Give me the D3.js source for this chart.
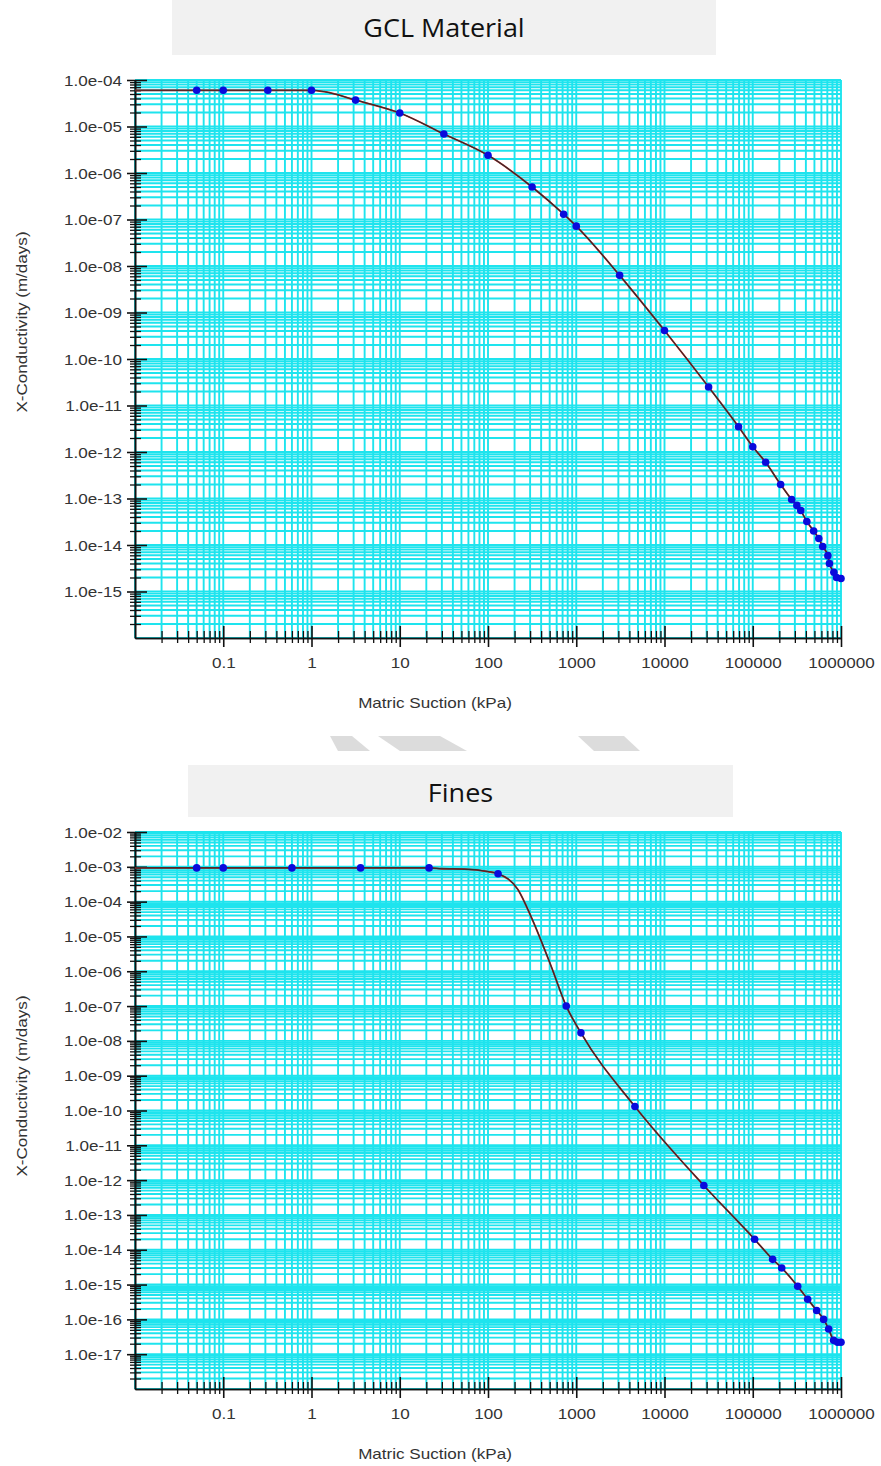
<!DOCTYPE html>
<html><head><meta charset="utf-8">
<script src="https://cdn.jsdelivr.net/npm/d3@7"></script>
<style>
html,body{margin:0;padding:0;background:#fff;}
svg{display:block;}
</style>
</head><body>
<script>
// ---------- data ----------
const xTickValues = [0.1, 1, 10, 100, 1000, 10000, 100000, 1000000];
const xTickLabels = ["0.1", "1", "10", "100", "1000", "10000", "100000", "1000000"];

const gclTitle = "GCL Material";
const gclYTickValues = [1e-4,1e-5,1e-6,1e-7,1e-8,1e-9,1e-10,1e-11,1e-12,1e-13,1e-14,1e-15];
const gclYTickLabels = ["1.0e-04","1.0e-05","1.0e-06","1.0e-07","1.0e-08","1.0e-09","1.0e-10","1.0e-11","1.0e-12","1.0e-13","1.0e-14","1.0e-15"];
const gclPointSuction = [0.05,0.1,0.32,1,3.16,10,31.6,100,316,720,1000,3100,10000,31600,69000,100000,140000,207000,276000,316000,350000,410000,490000,560000,620000,710000,740000,830000,890000,1000000];
const gclPointK = [6.0e-5,6.0e-5,6.0e-5,6.0e-5,3.7e-5,1.95e-5,6.9e-6,2.4e-6,5.0e-7,1.3e-7,7.2e-8,6.3e-9,4.1e-10,2.5e-11,3.5e-12,1.3e-12,6.0e-13,2.0e-13,9.5e-14,7.1e-14,5.5e-14,3.2e-14,2.0e-14,1.38e-14,9.3e-15,5.9e-15,4.0e-15,2.6e-15,2.0e-15,1.9e-15];
const gclCurveSuction = [0.01,0.05,0.1,0.32,1,1.4,3.16,10,31.6,100,316,720,1000,3100,10000,31600,69000,100000,140000,207000,276000,316000,350000,410000,490000,560000,620000,710000,740000,830000,890000,1000000];
const gclCurveK = [6.0e-5,6.0e-5,6.0e-5,6.0e-5,6.0e-5,5.6e-5,3.7e-5,1.95e-5,6.9e-6,2.4e-6,5.0e-7,1.3e-7,7.2e-8,6.3e-9,4.1e-10,2.5e-11,3.5e-12,1.3e-12,6.0e-13,2.0e-13,9.5e-14,7.1e-14,5.5e-14,3.2e-14,2.0e-14,1.38e-14,9.3e-15,5.9e-15,4.0e-15,2.6e-15,2.0e-15,1.9e-15];

const finesTitle = "Fines";
const finesYTickValues = [1e-2,1e-3,1e-4,1e-5,1e-6,1e-7,1e-8,1e-9,1e-10,1e-11,1e-12,1e-13,1e-14,1e-15,1e-16,1e-17];
const finesYTickLabels = ["1.0e-02","1.0e-03","1.0e-04","1.0e-05","1.0e-06","1.0e-07","1.0e-08","1.0e-09","1.0e-10","1.0e-11","1.0e-12","1.0e-13","1.0e-14","1.0e-15","1.0e-16","1.0e-17"];
const finesPointSuction = [0.05,0.1,0.6,3.6,21.5,130,770,1130,4620,27900,105000,168000,213000,323000,419000,530000,636000,724000,825000,915000,1000000];
const finesPointK = [9.3e-4,9.3e-4,9.3e-4,9.3e-4,9.3e-4,6.3e-4,1.0e-7,1.7e-8,1.3e-10,7.0e-13,2.0e-14,5.3e-15,3.0e-15,8.9e-16,3.8e-16,1.8e-16,1.0e-16,5.3e-17,2.5e-17,2.2e-17,2.2e-17];
const finesCurveSuction = [0.01,0.05,0.1,0.6,3.6,21.5,30,54,100,130,219,309,522,770,1130,4620,27900,105000,168000,213000,323000,419000,530000,636000,724000,825000,915000,1000000];
const finesCurveK = [9.3e-4,9.3e-4,9.3e-4,9.3e-4,9.3e-4,9.3e-4,8.8e-4,8.6e-4,7.3e-4,6.3e-4,2.2e-4,3.6e-5,1.35e-6,1.0e-7,1.7e-8,1.3e-10,7.0e-13,2.0e-14,5.3e-15,3.0e-15,8.9e-16,3.8e-16,1.8e-16,1.0e-16,5.3e-17,2.5e-17,2.2e-17,2.2e-17];

const xAxisTitle = "Matric Suction (kPa)";
const yAxisTitle = "X-Conductivity (m/days)";

// ---------- drawing ----------
const W = 881, H = 1466;
const SX = 1.22; // horizontal stretch of chart fonts
const GRID = "#1ee4ee";
const FONT = "'Liberation Sans', Arial, sans-serif";

const svg = d3.select("body").append("svg").attr("width", W).attr("height", H);
svg.append("rect").attr("width", W).attr("height", H).attr("fill", "#fff");

// decorative watermark between panels
const wm = [
  [[330,736],[352,736],[370,751],[338,751]],
  [[378,736],[440,736],[467,751],[400,751]],
  [[578,736],[624,736],[640,751],[594,751]]
];
svg.append("g").selectAll("polygon").data(wm).join("polygon")
  .attr("points", d => d.map(p => p.join(",")).join(" "))
  .attr("fill", "#dcdcdc");

function minorValues(lo, hi) {
  const out = [];
  for (let e = Math.round(Math.log10(lo)); e < Math.round(Math.log10(hi)); e++) {
    for (let k = 1; k <= 9; k++) out.push(k * Math.pow(10, e));
  }
  out.push(hi);
  return out;
}

function drawPanel(cfg) {
  const x = d3.scaleLog().domain([0.01, 1e6]).range([135, 841]);
  const y = d3.scaleLog().domain(cfg.yDomain).range([cfg.bottom, cfg.top]);
  const g = svg.append("g");

  // title box
  g.append("rect").attr("x", cfg.box[0]).attr("y", cfg.box[1]).attr("width", cfg.box[2]).attr("height", cfg.box[3]).attr("fill", "#f1f1f1");
  g.append("text").attr("transform", `translate(${cfg.box[0] + cfg.box[2] / 2},${cfg.titleBase}) scale(1.08,1)`)
    .attr("text-anchor", "middle").attr("font-family", "'Open Sans', sans-serif").attr("font-size", 25)
    .attr("fill", "#111").text(cfg.title);

  // plot background
  g.append("rect").attr("x", x.range()[0]).attr("y", cfg.top).attr("width", x.range()[1] - x.range()[0])
    .attr("height", cfg.bottom - cfg.top).attr("fill", "#fff");

  const xs = minorValues(0.01, 1e6);
  const ys = minorValues(cfg.yDomain[0], cfg.yDomain[1]);
  const grid = g.append("g").attr("stroke", GRID).attr("stroke-width", 1.9);
  grid.selectAll("line.v").data(xs).join("line").attr("class", "v")
    .attr("x1", d => x(d)).attr("x2", d => x(d)).attr("y1", cfg.top).attr("y2", cfg.bottom);
  grid.selectAll("line.h").data(ys).join("line").attr("class", "h")
    .attr("x1", 135).attr("x2", 841).attr("y1", d => y(d)).attr("y2", d => y(d));

  // y axis
  const yMinor = ys.filter(v => !cfg.yTicks.some(t => Math.abs(Math.log10(t) - Math.log10(v)) < 1e-6) && v !== cfg.yDomain[0]);
  const yMinorAxis = g.append("g").attr("transform", "translate(135,0)")
    .call(d3.axisLeft(y).tickValues(yMinor).tickFormat("").tickSizeOuter(0));
  yMinorAxis.selectAll(".tick line").attr("x1", 6).attr("x2", -5).attr("stroke", "#111").attr("stroke-width", 1.3);
  const yMajorAxis = g.append("g").attr("transform", "translate(135,0)")
    .call(d3.axisLeft(y).tickValues(cfg.yTicks).tickFormat((d, i) => cfg.yLabels[i]).tickSizeOuter(0));
  yMajorAxis.selectAll(".tick line").attr("x1", 12).attr("x2", -8).attr("stroke", "#111").attr("stroke-width", 1.6);
  yMajorAxis.selectAll(".tick text").attr("x", -13 / SX).attr("dy", "0.36em")
    .attr("transform", `scale(${SX},1)`).attr("font-family", FONT).attr("font-size", 14).attr("fill", "#333");
  [yMinorAxis, yMajorAxis].forEach(a => a.select(".domain").attr("stroke", "#111").attr("stroke-width", 1.6));

  // x axis
  const xMinor = xs.filter(v => !xTickValues.some(t => Math.abs(Math.log10(t) - Math.log10(v)) < 1e-6) && v !== 0.01);
  const xMinorAxis = g.append("g").attr("transform", `translate(0,${cfg.bottom})`)
    .call(d3.axisBottom(x).tickValues(xMinor).tickFormat("").tickSizeOuter(0));
  xMinorAxis.selectAll(".tick line").attr("y1", -7).attr("y2", 5).attr("stroke", "#111").attr("stroke-width", 1.3);
  const xMajorAxis = g.append("g").attr("transform", `translate(0,${cfg.bottom})`)
    .call(d3.axisBottom(x).tickValues(xTickValues).tickFormat((d, i) => xTickLabels[i]).tickSizeOuter(0));
  xMajorAxis.selectAll(".tick line").attr("y1", -12).attr("y2", 9).attr("stroke", "#111").attr("stroke-width", 1.6);
  xMajorAxis.selectAll(".tick text").attr("y", 30).attr("dy", 0)
    .attr("transform", `scale(${SX},1)`).attr("font-family", FONT).attr("font-size", 14).attr("fill", "#333");
  [xMinorAxis, xMajorAxis].forEach(a => a.select(".domain").attr("stroke", "#111").attr("stroke-width", 1.6));

  // axis titles
  g.append("text").attr("transform", `translate(435,${cfg.bottom + 70}) scale(${SX},1)`)
    .attr("text-anchor", "middle").attr("font-family", FONT).attr("font-size", 14).attr("fill", "#333").text(xAxisTitle);
  g.append("text").attr("transform", `translate(22,${cfg.yTitleY}) rotate(-90) scale(${SX},1)`)
    .attr("text-anchor", "middle").attr("dy", "0.35em").attr("font-family", FONT).attr("font-size", 14).attr("fill", "#333").text(yAxisTitle);

  // curve
  const curve = cfg.curveX.map((s, i) => [s, cfg.curveY[i]]);
  const line = d3.line().x(d => x(d[0])).y(d => y(d[1])).curve(d3.curveMonotoneX);
  g.append("path").datum(curve).attr("d", line).attr("fill", "none").attr("stroke", "#c81a1a").attr("stroke-width", 1.8);
  g.append("path").datum(curve).attr("d", line).attr("fill", "none").attr("stroke", "#2e2e2e").attr("stroke-width", 1.1);

  // points
  const pts = cfg.pointX.map((s, i) => [s, cfg.pointY[i]]);
  g.append("g").selectAll("circle").data(pts).join("circle")
    .attr("cx", d => x(d[0])).attr("cy", d => y(d[1])).attr("r", 3.8).attr("fill", "#0a0adc");
}

drawPanel({
  title: gclTitle, box: [172, 0, 544, 55], titleBase: 37,
  top: 80, bottom: 638, yDomain: [1e-16, 1e-4], yTicks: gclYTickValues, yLabels: gclYTickLabels,
  yTitleY: 322, curveX: gclCurveSuction, curveY: gclCurveK, pointX: gclPointSuction, pointY: gclPointK
});
drawPanel({
  title: finesTitle, box: [188, 765, 545, 52], titleBase: 802,
  top: 832, bottom: 1389, yDomain: [1e-18, 1e-2], yTicks: finesYTickValues, yLabels: finesYTickLabels,
  yTitleY: 1086, curveX: finesCurveSuction, curveY: finesCurveK, pointX: finesPointSuction, pointY: finesPointK
});
</script>
</body></html>
